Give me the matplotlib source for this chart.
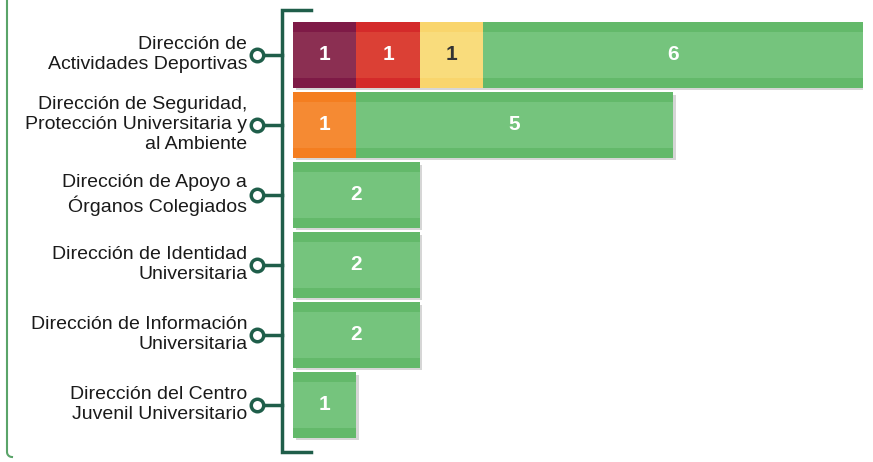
import numpy as np
import matplotlib
matplotlib.use("Agg")
import matplotlib.pyplot as plt
import matplotlib.patheffects as pe
import matplotlib.transforms as mtransforms
from matplotlib.lines import Line2D

plt.rcParams['font.family'] = ['Liberation Sans', 'DejaVu Sans']

# data
categories = [
    "Dirección de\nActividades Deportivas",
    "Dirección de Seguridad,\nProtección Universitaria y\nal Ambiente",
    "Dirección de Apoyo a\nÓrganos Colegiados",
    "Dirección de Identidad\nUniversitaria",
    "Dirección de Información\nUniversitaria",
    "Dirección del Centro\nJuvenil Universitario",
]
maroon = [1, 0, 0, 0, 0, 0]
red = [1, 0, 0, 0, 0, 0]
orange = [0, 1, 0, 0, 0, 0]
yellow = [1, 0, 0, 0, 0, 0]
green = [6, 5, 2, 2, 2, 1]

series = [maroon, red, orange, yellow, green]
main_cols = ['#8b2f52', '#db4035', '#f58a33', '#f9dc7c', '#75c47d']
edge_cols = ['#7e1a46', '#d42a2a', '#f47e20', '#f9d56c', '#63b96a']
txt_cols = ['white', 'white', 'white', '#333333', 'white']

fig = plt.figure(figsize=(8.73, 4.62), dpi=100)
ax = fig.add_axes([293/873, 1 - 440/462, 570/873, 420/462])

y = np.arange(len(categories))
left = np.zeros(len(categories))
bh = 0.93
for vals, mc, ec, tc in zip(series, main_cols, edge_cols, txt_cols):
    vals = np.array(vals, dtype=float)
    ax.barh(y, vals, left=left, height=bh, color=ec, linewidth=0,
            path_effects=[pe.SimplePatchShadow(offset=(2, -2), shadow_rgbFace='#999999', alpha=0.4),
                          pe.Normal()])
    ax.barh(y, vals, left=left, height=bh*0.70, color=mc, linewidth=0, zorder=3)
    for yi, v, l in zip(y, vals, left):
        if v > 0:
            ax.text(l + v/2, yi, f"{int(v)}", ha='center', va='center',
                    color=tc, fontsize=15, fontweight='bold', zorder=4)
    left += vals

ax.set_xlim(0, 9)
ax.set_ylim(5.5, -0.5)
for s in ax.spines.values():
    s.set_visible(False)
ax.set_xticks([])
ax.set_yticks(y)
ax.set_yticklabels(categories, fontsize=14, color='#1a1a1a', linespacing=1.25)
ax.tick_params(axis='y', length=0, pad=33)
shift = mtransforms.ScaledTranslation(0, 4/100, fig.dpi_scale_trans)
for lbl in ax.get_yticklabels():
    lbl.set_transform(lbl.get_transform() + shift)

# bracket axis with circle markers
dk = '#1f5e4a'
unit = 570 / 9
bx = -11 / unit
ax.plot([18/unit, bx, bx, 18/unit], [-0.643, -0.643, 5.671, 5.671],
        color=dk, lw=2.5, clip_on=False, solid_joinstyle='miter')
cx = -36 / unit
for yi in y:
    ax.plot([cx, bx], [yi, yi], color=dk, lw=2.5, clip_on=False, zorder=5)
ax.plot([cx]*len(y), y, 'o', ms=9, mfc='white', mec=dk, mew=2.5,
        clip_on=False, zorder=6)

# green frame edge on the left
t = np.linspace(np.pi, 1.5*np.pi, 10)
fx = (12 + 5*np.cos(t)) / 873
fy = 1 - (452 - 5*np.sin(t)) / 462
fig.add_artist(Line2D(np.r_[7/873, fx], np.r_[1.0, fy], color='#5aa469', lw=1.5))

plt.savefig('out.png', dpi=100)
